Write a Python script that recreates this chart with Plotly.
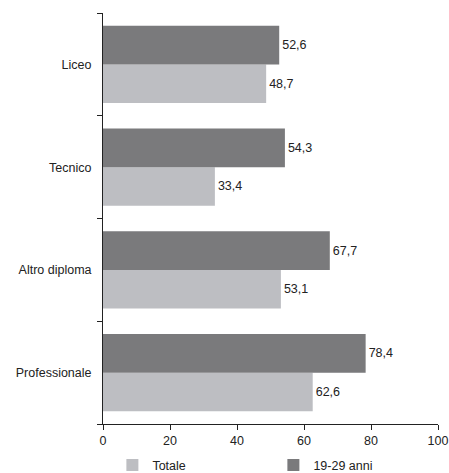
import plotly.graph_objects as go

categories = ["Professionale", "Altro diploma", "Tecnico", "Liceo"]
totale = [62.6, 53.1, 33.4, 48.7]
giovani = [78.4, 67.7, 54.3, 52.6]
x_ticks = [0, 20, 40, 60, 80, 100]

def fmt(v):
    return f"{v:.1f}".replace(".", ",")

font = dict(family="Liberation Sans, Arial, sans-serif", size=12.5, color="#222222")

fig = go.Figure()
fig.add_trace(go.Bar(
    y=categories, x=totale, orientation="h", name="Totale",
    marker=dict(color="#bdbec2", line=dict(width=0)),
    text=[fmt(v) for v in totale], textposition="outside",
    textfont=font, cliponaxis=False,
))
fig.add_trace(go.Bar(
    y=categories, x=giovani, orientation="h", name="19-29 anni",
    marker=dict(color="#7a7a7c", line=dict(width=0)),
    text=[fmt(v) for v in giovani], textposition="outside",
    textfont=font, cliponaxis=False,
))

fig.update_layout(
    width=449, height=473,
    margin=dict(l=103, r=11, t=13, b=49, autoexpand=False),
    paper_bgcolor="white", plot_bgcolor="white",
    barmode="group", bargap=0.25, bargroupgap=0,
    font=font,
    showlegend=True,
    legend=dict(orientation="h", x=0.028, y=-0.064,
                xanchor="left", yanchor="top",
                entrywidth=116, entrywidthmode="pixels", itemwidth=30,
                font=font, traceorder="normal", bgcolor="rgba(0,0,0,0)"),
    xaxis=dict(range=[0, 100], tickvals=x_ticks, showgrid=False, zeroline=False,
               showline=True, linecolor="#222", linewidth=1,
               ticks="outside", ticklen=5, tickcolor="#222", tickfont=font),
    yaxis=dict(categoryorder="array", categoryarray=categories,
               showgrid=False, zeroline=False, showline=True, linecolor="#222",
               linewidth=1, ticks="outside", tickson="boundaries", ticklen=5,
               tickcolor="#222", tickfont=font, ticklabelstandoff=8),
)

fig.write_html("out.html")
